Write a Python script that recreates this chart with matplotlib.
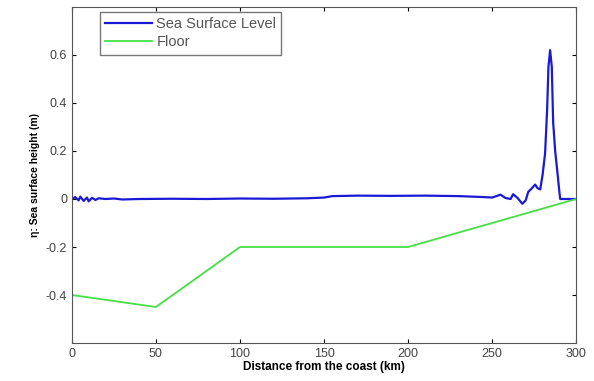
import numpy as np
import matplotlib
matplotlib.use('Agg')
import matplotlib.pyplot as plt

plt.rcParams['font.family'] = ['Liberation Sans', 'DejaVu Sans']

# sea surface level (km, m)
sea_x = [0, 2, 4, 5, 7, 9, 10, 12, 14, 16, 20, 25, 30, 40, 60, 80, 100, 120, 140,
         150, 155, 170, 190, 210, 230, 245, 250, 255, 258, 261, 262.5, 265, 268,
         270, 271.5, 273, 275.6, 277, 278.6, 280, 281.5, 282.7, 283.5, 284.5,
         285.5, 286.3, 287.5, 288.7, 290, 290.5, 293, 300]
sea_y = [0.0, 0.008, -0.006, 0.01, -0.008, 0.006, -0.01, 0.005, -0.004, 0.003,
         0.0, 0.002, -0.002, 0.0, 0.001, 0.0, 0.002, 0.001, 0.003,
         0.006, 0.012, 0.014, 0.013, 0.014, 0.012, 0.008, 0.006, 0.018, 0.004,
         0.0, 0.02, 0.005, -0.02, -0.005, 0.03, 0.04, 0.06, 0.045, 0.04, 0.1,
         0.19, 0.37, 0.55, 0.62, 0.55, 0.32, 0.2, 0.12, 0.03, 0.0, 0.0, 0.0]

# sea floor
floor_x = [0, 50, 100, 200, 300]
floor_y = [-0.4, -0.45, -0.2, -0.2, 0.0]

fig = plt.figure(figsize=(5.94, 3.81), dpi=100)
ax = fig.add_axes([0.121, 0.0997, 0.849, 0.882])

ax.plot(sea_x, sea_y, color='#1a1ad6', lw=1.6, label='Sea Surface Level')
ax.plot(floor_x, floor_y, color='#44e044', lw=1.3, label='Floor')

ax.set_xlim(0, 300)
ax.set_ylim(-0.6, 0.8)
ax.set_xticks([0, 50, 100, 150, 200, 250, 300])
ax.set_yticks([-0.4, -0.2, 0, 0.2, 0.4, 0.6])
ax.set_yticklabels(['-0.4', '-0.2', '0', '0.2', '0.4', '0.6'])
ax.tick_params(direction='in', top=True, right=True, labelsize=9,
               labelcolor='#444444', length=3)
for s in ax.spines.values():
    s.set_color('#555555')

ax.set_xlabel('Distance from the coast (km)', fontsize=8.5, fontweight='bold', labelpad=1)
ax.set_ylabel('η: Sea surface height (m)', fontsize=7.5, fontweight='bold', labelpad=4)

leg = ax.legend(loc='upper left', bbox_to_anchor=(0.056, 0.985), borderaxespad=0,
                fancybox=False, edgecolor='#555555', fontsize=10.5, handlelength=3.2,
                handletextpad=0.3, labelspacing=0.3, borderpad=0.35)
for t in leg.get_texts():
    t.set_color('#555555')

fig.savefig('out.png', dpi=100)
